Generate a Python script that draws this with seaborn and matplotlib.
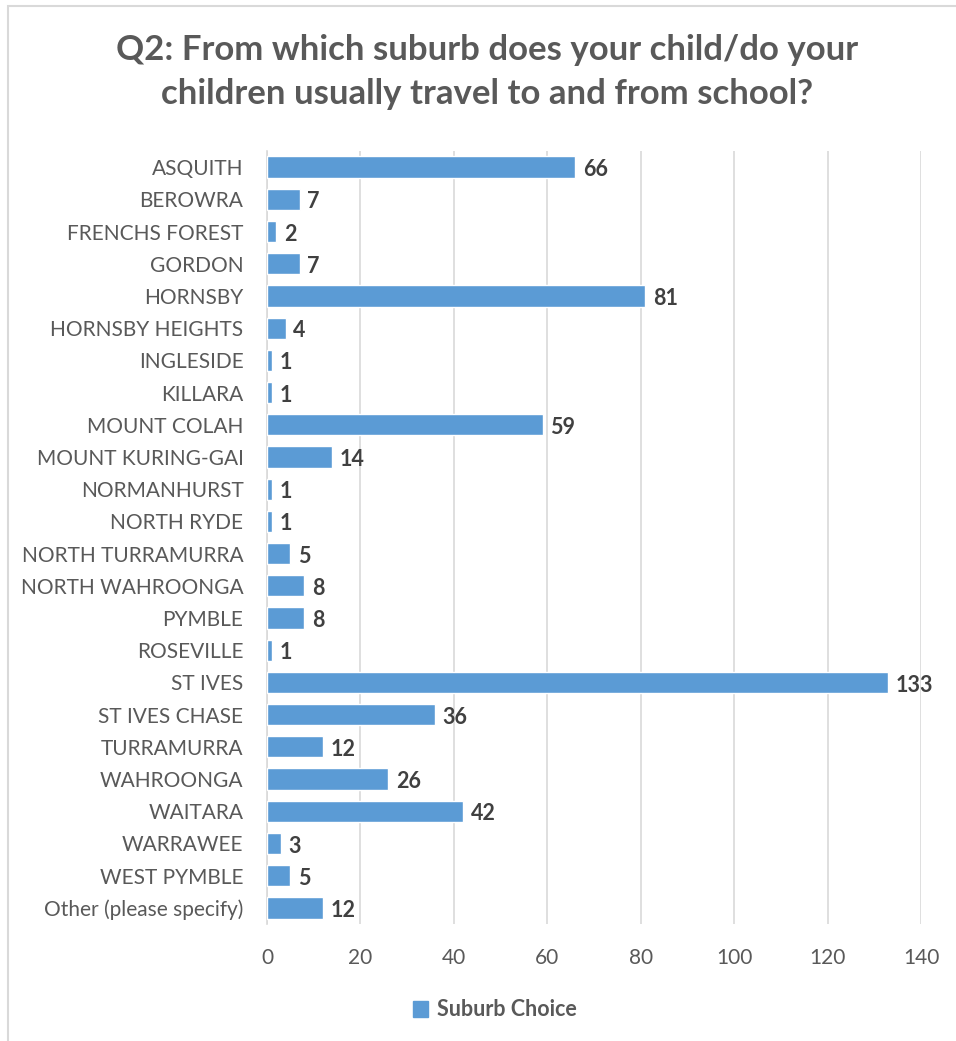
import matplotlib
matplotlib.use('Agg')
import matplotlib.pyplot as plt
import seaborn as sns
import pandas as pd
from matplotlib.patches import Rectangle, Patch

suburbs = ['ASQUITH', 'BEROWRA', 'FRENCHS FOREST', 'GORDON', 'HORNSBY',
           'HORNSBY HEIGHTS', 'INGLESIDE', 'KILLARA', 'MOUNT COLAH',
           'MOUNT KURING-GAI', 'NORMANHURST', 'NORTH RYDE', 'NORTH TURRAMURRA',
           'NORTH WAHROONGA', 'PYMBLE', 'ROSEVILLE', 'ST IVES', 'ST IVES CHASE',
           'TURRAMURRA', 'WAHROONGA', 'WAITARA', 'WARRAWEE', 'WEST PYMBLE',
           'Other (please specify)']
counts = [66, 7, 2, 7, 81, 4, 1, 1, 59, 14, 1, 1, 5, 8, 8, 1, 133, 36,
          12, 26, 42, 3, 5, 12]
x_ticks = [0, 20, 40, 60, 80, 100, 120, 140]

title = 'Q2: From which suburb does your child/do your\nchildren usually travel to and from school?'
series_name = 'Suburb Choice'

bar_color = '#5B9BD5'
text_grey = '#595959'
label_dark = '#404040'
grid_grey = '#D9D9D9'

df = pd.DataFrame({'suburb': suburbs, 'count': counts})

sns.set_style('white')
plt.rcParams['font.family'] = ['Lato', 'DejaVu Sans']

fig = plt.figure(figsize=(9.56, 10.41), dpi=100)
W, H = 956, 1041
ax = fig.add_axes([267 / W, 1 - 924 / H, (921 - 267) / W, (924 - 151) / H])

sns.barplot(data=df, x='count', y='suburb', orient='h', color=bar_color,
            saturation=1, width=0.66, ax=ax, zorder=3)

ax.set_xlim(0, 140)
ax.set_xticks(x_ticks)
ax.set_xticklabels([str(t) for t in x_ticks], fontsize=15, color=text_grey)
ax.tick_params(axis='y', labelsize=15, labelcolor=text_grey, length=0, pad=17)
ax.tick_params(axis='x', length=0, pad=17)
ax.set_xlabel('')
ax.set_ylabel('')
ax.grid(axis='x', color=grid_grey, linewidth=1.2, zorder=0)
for s in ['top', 'right', 'bottom']:
    ax.spines[s].set_visible(False)
ax.spines['left'].set_color(grid_grey)
ax.spines['left'].set_linewidth(1.2)

for i, v in enumerate(counts):
    ax.text(v + 1.6, i + 0.08, str(v), va='center', ha='left', fontsize=15.5,
            fontweight='bold', color=label_dark, zorder=4)

fig.text(487 / W, 1 - 72 / H, title, ha='center', va='center', fontsize=25,
         fontweight='bold', color=text_grey, linespacing=1.45)

# outer chart border (runs off the right/bottom edges)
fig.patches.append(Rectangle((8 / W, -0.05), 1.2, 1 - 6 / H + 0.05,
                             transform=fig.transFigure, fill=False,
                             edgecolor=grid_grey, linewidth=1.5))

handle = Patch(facecolor=bar_color, edgecolor=bar_color)
leg = fig.legend([handle], [series_name], loc='center',
                 bbox_to_anchor=(495 / W, 1 - 1010 / H), frameon=False,
                 handlelength=0.7, handleheight=0.7, handletextpad=0.4,
                 prop={'size': 15.5, 'weight': 'bold'})
for t in leg.get_texts():
    t.set_color(text_grey)

fig.savefig('out.png', dpi=100, facecolor='white')
